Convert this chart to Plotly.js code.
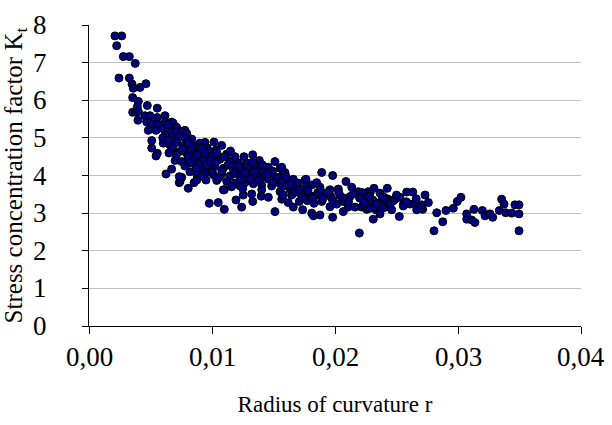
<!DOCTYPE html>
<html>
<head>
<meta charset="utf-8">
<script src="https://cdn.plot.ly/plotly-3.0.1.min.js"></script>
<style>html,body{margin:0;padding:0;background:#fff;}#chart{width:612px;height:425px;}</style>
</head>
<body>
<div id="chart"></div>
<script>
// Radius of curvature r
const radius = [
0.00211,0.00266,0.00225,0.00279,0.00328,0.00376,0.00244,0.00328,0.00350,0.00360,
0.00415,0.00463,0.00355,0.00401,0.00393,0.00474,0.00355,0.00382,0.00555,0.00398,
0.00455,0.00496,0.00555,0.00618,0.00469,0.00510,0.00563,0.00618,0.00672,0.00691,
0.00482,0.00545,0.00604,0.00645,0.00726,0.00780,0.00685,0.00713,0.00401,0.00645,
0.00707,0.00754,0.00794,0.00618,0.00672,0.00726,0.00780,0.00835,0.00510,0.00604,
0.00659,0.00713,0.00767,0.00807,0.00862,0.00902,0.00943,0.00510,0.00555,0.00545,
0.00672,0.00740,0.00794,0.00848,0.00902,0.00962,0.00807,0.00862,0.00916,0.00970,
0.00754,0.00821,0.00889,0.00943,0.00916,0.00970,0.00821,0.00876,0.00672,0.00626,
0.00754,0.00734,0.00854,0.00876,0.00807,0.00978,0.00740,0.01051,0.01100,0.01100,
0.00734,0.01016,0.01079,0.00916,0.00970,0.01033,0.01120,0.01187,0.01260,0.01331,
0.00929,0.00998,0.01065,0.01146,0.01214,0.01282,0.01385,0.01512,0.00957,0.01024,
0.01092,0.01173,0.01241,0.01323,0.01390,0.01458,0.01553,0.00943,0.01011,0.01079,
0.01146,0.01228,0.01295,0.01363,0.01431,0.01498,0.01580,0.00951,0.01038,0.01120,
0.01187,0.01268,0.01336,0.01404,0.01485,0.01553,0.01612,0.01092,0.01228,0.01195,
0.01254,0.01323,0.01241,0.01331,0.01404,0.01458,0.01512,0.01567,0.01620,0.01553,
0.01567,0.01593,0.01607,0.01661,0.01892,0.01981,0.01756,0.01811,0.01851,0.02089,
0.02136,0.01580,0.01634,0.01689,0.01764,0.01878,0.01959,0.02027,0.02189,0.01580,
0.01648,0.01715,0.01783,0.01837,0.01900,0.01965,0.02041,0.02122,0.02271,0.01710,
0.01775,0.01829,0.01892,0.01959,0.02014,0.02067,0.02108,0.02163,0.02217,0.02258,
0.01661,0.01737,0.01811,0.01824,0.01878,0.02067,0.01981,0.02198,0.01764,0.02317,
0.02425,0.02366,0.02583,0.02632,0.02732,0.02285,0.02217,0.02244,0.02307,0.02380,
0.02433,0.02488,0.02528,0.02555,0.02610,0.02650,0.02705,0.02759,0.02230,0.02285,
0.02333,0.02366,0.02420,0.02461,0.02523,0.02311,0.02827,0.02805,0.02271,0.02407,
0.02474,0.02325,0.02388,0.02555,0.02664,0.02713,0.02902,0.02876,0.02962,0.02994,
0.03024,0.03071,0.03071,0.03111,0.03138,0.03130,0.03198,0.03220,0.03260,0.03282,
0.03336,0.03355,0.03374,0.03388,0.03437,0.03463,0.03496,0.03496,0.03496,0.0060,
0.0064,0.0068,0.0071,0.0076,0.0083,0.0088,0.0094,0.0099,0.0104,0.0110,
0.0115,0.0119,0.0124,0.0129,0.0134,0.0100,0.0106,0.0087,0.0092,0.0078,
0.0070,0.0065,0.0103,0.0108,0.0113,0.0118,0.0122,0.0127,0.0131,0.0135,
0.0138,0.0142,0.0146,0.0149,0.0153,0.0157,0.0160,0.0163,0.0167,0.0170,
0.0174,0.0178,0.0182,0.0186,0.0190,0.0194,0.0198,0.0203,0.0207,0.0211,
0.0215,0.0220,0.0224,0.0228,0.0234,0.0239,0.0245,0.0250,0.0258,0.0266,
0.0270,0.0133,0.0141,0.0145,0.0150,0.0125,0.0116,0.0140,0.0171,0.0188
];
// Stress concentration factor Kt
const kt = [
7.71,7.71,7.45,7.16,7.16,6.98,6.59,6.59,6.43,6.32,
6.34,6.44,6.07,5.97,5.83,5.86,5.68,5.68,5.79,5.47,
5.59,5.59,5.54,5.59,5.42,5.38,5.35,5.42,5.42,5.30,
5.20,5.20,5.24,5.19,5.20,5.20,5.39,5.28,5.70,5.35,
5.17,5.17,5.12,5.08,5.02,5.03,4.99,4.97,4.93,4.86,
4.81,4.88,4.79,4.86,4.79,4.86,4.88,4.73,4.59,4.52,
4.68,4.64,4.59,4.61,4.68,4.73,4.49,4.46,4.50,4.52,
4.37,4.34,4.31,4.37,4.17,4.15,4.10,4.04,4.17,4.04,
3.95,3.81,3.81,3.88,3.66,3.26,3.84,3.28,3.10,3.62,
3.97,4.89,4.80,4.73,4.64,4.68,4.57,4.50,4.50,4.55,
4.46,4.50,4.43,4.37,4.34,4.33,4.40,4.37,4.28,4.24,
4.19,4.17,4.15,4.19,4.15,4.22,4.19,4.06,4.02,4.04,
3.99,3.97,4.02,3.99,3.97,4.02,4.06,3.88,3.87,3.84,
3.80,3.81,3.78,3.75,3.72,3.78,3.84,3.62,3.72,3.35,
3.48,3.51,3.16,3.31,3.62,3.42,3.04,3.37,3.28,3.57,
4.22,4.08,3.88,3.90,4.08,4.00,3.88,3.75,3.81,3.84,
3.69,3.71,3.64,3.71,3.69,3.69,3.62,3.64,3.57,3.48,
3.48,3.53,3.51,3.46,3.48,3.44,3.46,3.44,3.57,3.31,
3.33,3.26,3.31,3.17,3.24,3.31,3.16,3.16,3.16,3.10,
3.16,3.09,3.00,2.93,2.95,3.04,2.89,2.47,3.90,3.66,
3.66,3.53,3.56,3.56,3.48,3.53,3.55,3.40,3.35,3.35,
3.37,3.37,3.42,3.22,3.24,3.26,3.22,3.28,3.22,3.13,
3.09,2.98,3.17,3.09,2.91,2.84,3.01,2.53,3.31,3.40,
3.33,3.17,3.13,3.19,3.09,3.10,3.07,2.77,3.13,3.31,
3.42,2.98,2.84,2.82,2.75,3.10,3.07,2.93,2.98,2.89,
3.07,3.37,3.24,3.01,3.00,3.22,3.22,2.98,2.53,5.00,
4.95,4.75,4.55,4.70,4.70,4.55,4.60,4.40,4.60,4.50,
4.65,4.25,3.90,4.20,4.10,4.10,3.95,4.20,3.98,4.25,
4.40,4.60,4.35,4.12,4.28,4.05,4.25,4.08,3.90,4.30,
3.88,4.10,3.90,4.12,3.95,3.85,3.98,3.75,3.55,3.80,
3.40,3.60,3.40,3.55,3.38,3.55,3.35,3.55,3.40,3.30,
3.52,3.40,3.28,3.45,3.25,3.45,3.25,3.48,3.30,3.38,
3.15,4.35,4.28,4.05,3.82,3.65,3.70,3.45,3.62,3.62
];
// Tick values and labels
const xTickVals = [0, 0.01, 0.02, 0.03, 0.04];
const xTickText = ['0,00', '0,01', '0,02', '0,03', '0,04'];
const yTickVals = [0, 1, 2, 3, 4, 5, 6, 7, 8];
const yTickText = ['0', '1', '2', '3', '4', '5', '6', '7', '8'];
const xTitle = 'Radius of curvature r';
const yTitle = 'Stress concentration factor K<sub>t</sub>';

const font = 'Times New Roman';
const trace = {
  type: 'scatter', mode: 'markers', x: radius, y: kt,
  marker: {size: 8, color: '#000080', line: {color: '#000000', width: 1}},
  hoverinfo: 'skip', showlegend: false
};
const annotations = [];
xTickVals.forEach((v, i) => annotations.push({
  x: v, xref: 'x', y: 0, yref: 'paper', text: xTickText[i], showarrow: false,
  xanchor: 'center', yanchor: 'middle', yshift: -31,
  font: {family: font, size: 27, color: '#000000'}
}));
yTickVals.forEach((v, i) => annotations.push({
  x: 0, xref: 'paper', y: v, yref: 'y', text: yTickText[i], showarrow: false,
  xanchor: 'right', yanchor: 'middle', xshift: -40,
  font: {family: font, size: 27, color: '#000000'}
}));
const layout = {
  width: 612, height: 425,
  margin: {l: 89, r: 31, t: 25, b: 99},
  paper_bgcolor: '#ffffff', plot_bgcolor: '#ffffff',
  font: {family: font, color: '#000000', size: 26},
  showlegend: false,
  annotations: annotations,
  xaxis: {
    range: [0, 0.04], tickvals: xTickVals, showticklabels: false,
    showgrid: false, zeroline: false, showline: true, linecolor: '#000000', linewidth: 1,
    ticks: 'outside', ticklen: 7, tickcolor: '#000000', tickwidth: 1,
    title: {text: xTitle, font: {family: font, size: 23, color: '#000000'}, standoff: 62}
  },
  yaxis: {
    range: [0, 8], tickvals: yTickVals, showticklabels: false,
    showgrid: true, gridcolor: '#c0c0c0', gridwidth: 1,
    zeroline: false, showline: true, linecolor: '#000000', linewidth: 1,
    ticks: 'outside', ticklen: 6, tickcolor: '#000000', tickwidth: 1,
    title: {text: yTitle, font: {family: font, size: 25, color: '#000000'}, standoff: 58}
  }
};
Plotly.newPlot('chart', [trace], layout, {staticPlot: true, displayModeBar: false});
</script>
</body>
</html>
